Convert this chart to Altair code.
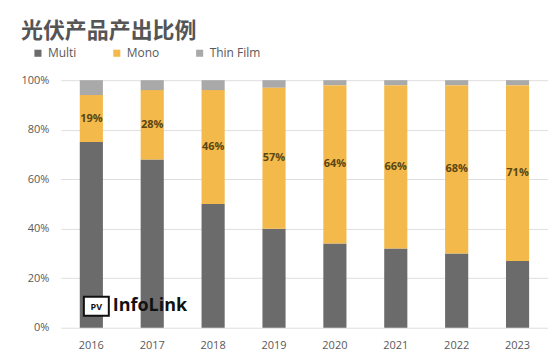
import altair as alt
import pandas as pd

years = ["2016", "2017", "2018", "2019", "2020", "2021", "2022", "2023"]
multi = [75, 68, 50, 40, 34, 32, 30, 27]
mono = [19, 28, 46, 57, 64, 66, 68, 71]
thin = [6, 4, 4, 3, 2, 2, 2, 2]
series = ["Multi", "Mono", "Thin Film"]
colors = ["#6b6b6b", "#f4b94b", "#a9a9a9"]
title_text = "光伏产品产出比例"

rows = []
for i, y in enumerate(years):
    for k, (name, vals) in enumerate(zip(series, [multi, mono, thin])):
        rows.append({"year": y, "type": name, "value": vals[i], "ord": k})
df = pd.DataFrame(rows)

lab = pd.DataFrame({
    "year": years,
    "mid": [m + o / 2 for m, o in zip(multi, mono)],
    "label": [f"{o}%" for o in mono],
})

FONT = "Open Sans"
GRAY = "#595959"

xenc = alt.X("year:N", title=None, sort=years,
             scale=alt.Scale(paddingInner=0.62, paddingOuter=0.31),
             axis=alt.Axis(labelAngle=0, ticks=False, domain=False, labelPadding=12,
                           labelFont=FONT, labelFontSize=11, labelColor=GRAY))

bars = alt.Chart(df).mark_bar().encode(
    x=xenc,
    y=alt.Y("value:Q", stack="zero", title=None,
            scale=alt.Scale(domain=[0, 100], nice=False),
            axis=alt.Axis(values=[0, 20, 40, 60, 80, 100], labelExpr="datum.value + '%'",
                          ticks=False, domain=False, labelPadding=12,
                          gridColor="#dedede", labelFont=FONT, labelFontSize=11,
                          labelColor=GRAY)),
    color=alt.Color("type:N", sort=series,
                    scale=alt.Scale(domain=series, range=colors),
                    legend=alt.Legend(title=None, orient="none", direction="horizontal",
                                      legendX=-29, legendY=-33, padding=0,
                                      symbolType="square", symbolSize=50,
                                      symbolStrokeWidth=0, columnPadding=34,
                                      labelFont=FONT, labelFontSize=12,
                                      labelColor=GRAY, labelOffset=4)),
    order=alt.Order("ord:Q", sort="ascending"),
)

labels = alt.Chart(lab).mark_text(font=FONT, fontSize=11, fontWeight="bold",
                                  color="#5a4712").encode(
    x=alt.X("year:N", sort=years),
    y=alt.Y("mid:Q"),
    text="label:N",
)

title = alt.Chart(pd.DataFrame({"t": [title_text]})).mark_text(
    font="Noto Sans CJK SC", fontSize=22, fontWeight="bold", color="#555555",
    align="left", baseline="middle"
).encode(x=alt.value(-40), y=alt.value(-49), text="t:N")

logo_box = alt.Chart(pd.DataFrame({"t": ["PV"]})).mark_rect(
    fill="white", stroke="#111111", strokeWidth=2
).encode(x=alt.value(23), x2=alt.value(48), y=alt.value(217), y2=alt.value(236))

logo_pv = alt.Chart(pd.DataFrame({"t": ["PV"]})).mark_text(
    font=FONT, fontSize=9, fontWeight="bold", color="#111111"
).encode(x=alt.value(35.5), y=alt.value(227), text="t:N")

logo_txt = alt.Chart(pd.DataFrame({"t": ["InfoLink"]})).mark_text(
    font=FONT, fontSize=18, fontWeight="bold", color="#111111", align="left"
).encode(x=alt.value(52), y=alt.value(226), text="t:N")

chart = alt.layer(bars, labels, title, logo_box, logo_pv, logo_txt).properties(
    width=488, height=248,
    padding={"left": 53, "top": 72, "right": 0, "bottom": 28},
    autosize=alt.AutoSizeParams(type="none"),
).configure_view(stroke=None)

chart.save("out.html", embed_options={"renderer": "svg", "actions": False})
